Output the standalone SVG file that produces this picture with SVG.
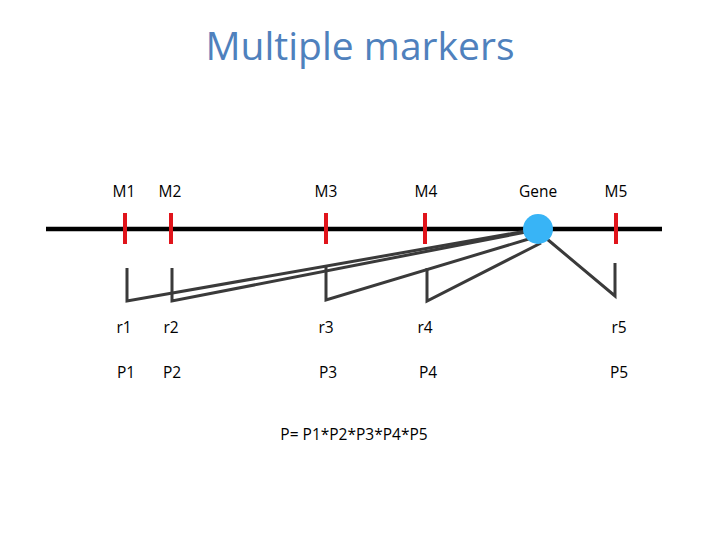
<svg xmlns="http://www.w3.org/2000/svg" width="720" height="540" viewBox="0 0 720 540">
<style>
.title{font-family:"Open Sans","Liberation Sans",sans-serif;font-size:39px;fill:#4f81bd;text-anchor:middle}
.lbl{font-family:"Open Sans","Liberation Sans",sans-serif;font-size:15.5px;fill:#000;text-anchor:middle}
.tick{stroke:#e0141b;stroke-width:4}
.conn{stroke:#3a3a3a;stroke-width:3;fill:none;stroke-linejoin:miter}
</style>
<rect width="720" height="540" fill="#fff"/>
<text class="title" x="360" y="60">Multiple markers</text>
<g id="chromosome">
<line x1="46" y1="229" x2="662" y2="229" stroke="#000" stroke-width="4.5"/>
</g>
<g id="connectors">
<polyline class="conn" points="127,268 127,301 526,231"/>
<polyline class="conn" points="172,268 172,301 526,232"/>
<polyline class="conn" points="326,265 326,300 532,238"/>
<polyline class="conn" points="427,268 427,301 541,243"/>
<polyline class="conn" points="615,263 615,296 547,239"/>
</g>
<g id="M1"><line class="tick" x1="125" y1="213" x2="125" y2="244"/><text class="lbl" x="124" y="197">M1</text></g>
<g id="M2"><line class="tick" x1="171" y1="213" x2="171" y2="244"/><text class="lbl" x="170" y="197">M2</text></g>
<g id="M3"><line class="tick" x1="326" y1="213" x2="326" y2="244"/><text class="lbl" x="326" y="197">M3</text></g>
<g id="M4"><line class="tick" x1="425" y1="213" x2="425" y2="244"/><text class="lbl" x="426" y="197">M4</text></g>
<g id="M5"><line class="tick" x1="616" y1="213" x2="616" y2="244"/><text class="lbl" x="616" y="197">M5</text></g>
<g id="Gene"><circle cx="538" cy="229" r="15" fill="#38b4f6"/><text class="lbl" x="538" y="197">Gene</text></g>
<g id="r-labels">
<text class="lbl" x="124" y="333">r1</text>
<text class="lbl" x="171" y="333">r2</text>
<text class="lbl" x="326" y="333">r3</text>
<text class="lbl" x="425" y="333">r4</text>
<text class="lbl" x="619" y="333">r5</text>
</g>
<g id="p-labels">
<text class="lbl" x="126" y="378">P1</text>
<text class="lbl" x="172" y="378">P2</text>
<text class="lbl" x="328" y="378">P3</text>
<text class="lbl" x="428" y="378">P4</text>
<text class="lbl" x="619" y="378">P5</text>
</g>
<g id="formula"><text class="lbl" x="354" y="440">P= P1*P2*P3*P4*P5</text></g>
</svg>
